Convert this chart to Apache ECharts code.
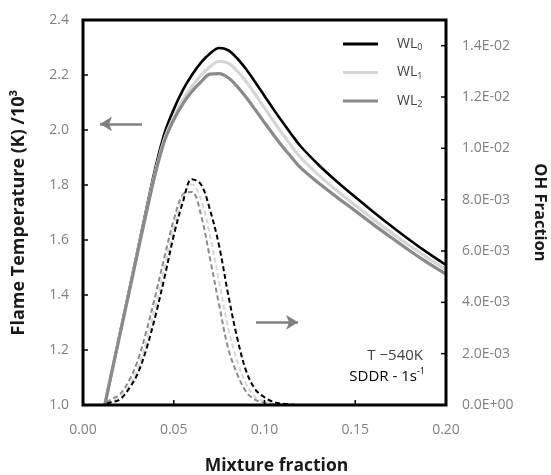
<!DOCTYPE html>
<html>
<head>
<meta charset="utf-8">
<script src="https://cdn.jsdelivr.net/npm/echarts@6/dist/echarts.min.js"></script>
<style>html,body{margin:0;padding:0;background:#fff}#c{width:551px;height:475px}</style>
</head>
<body>
<div id="c"></div>
<script>
// Temperature (left axis, /10^3 K)
const xT = [0.012,0.015,0.020,0.025,0.030,0.035,0.040,0.045,0.050,0.055,0.060,0.065,0.070,0.075,0.080,0.085,0.090,0.095,0.100,0.105,0.110,0.115,0.120,0.130,0.140,0.150,0.160,0.170,0.180,0.190,0.200];
const tWL0 = [1.000,1.093,1.249,1.404,1.560,1.715,1.865,1.990,2.075,2.145,2.200,2.245,2.278,2.298,2.290,2.260,2.220,2.173,2.124,2.075,2.028,1.983,1.940,1.872,1.812,1.756,1.702,1.650,1.600,1.553,1.509];
const tWL1 = [1.000,1.093,1.247,1.400,1.554,1.706,1.852,1.970,2.047,2.109,2.158,2.199,2.230,2.250,2.243,2.214,2.175,2.129,2.080,2.032,1.985,1.941,1.899,1.835,1.779,1.726,1.675,1.626,1.579,1.534,1.492];
const tWL2 = [1.000,1.093,1.246,1.398,1.551,1.702,1.846,1.962,2.037,2.095,2.140,2.175,2.203,2.205,2.190,2.158,2.118,2.073,2.027,1.982,1.939,1.900,1.862,1.806,1.755,1.706,1.656,1.608,1.561,1.517,1.476];

// OH fraction (right axis)
const xOH = [0.000,0.010,0.015,0.020,0.025,0.030,0.035,0.040,0.045,0.050,0.055,0.060,0.065,0.070,0.075,0.080,0.085,0.090,0.095,0.100,0.105,0.110,0.120,0.140,0.160,0.180,0.200];
const ohWL0 = [0,0,0.0001,0.0002,0.0006,0.0012,0.0022,0.0035,0.0050,0.0066,0.0079,0.0088,0.0086,0.0076,0.0062,0.0043,0.0026,0.0013,0.0006,0.0003,0.00012,0.00005,0,0,0,0,0];
const ohWL1 = [0,0,0.0001,0.0003,0.0007,0.0014,0.0025,0.0039,0.0054,0.0069,0.0081,0.0086,0.0080,0.0066,0.0048,0.0030,0.0017,0.0008,0.0003,0.00015,0.00007,0.00004,0,0,0,0,0];
const ohWL2 = [0,0,0.0002,0.0004,0.0009,0.0017,0.0029,0.0043,0.0058,0.0072,0.0082,0.0083,0.0074,0.0057,0.0039,0.0022,0.0012,0.0005,0.0002,0.0001,0.00005,0.00002,0,0,0,0,0];

const legendNames = ['WL0','WL1','WL2'];
const xTicks = {min:0, max:0.2, interval:0.05};
const leftTicks = {min:1.0, max:2.4, interval:0.2};
const rightTicks = {min:0, max:0.015, interval:0.002};
const xTickVals = [0.05,0.10,0.15];
const leftTickVals = [1.2,1.4,1.6,1.8,2.0,2.2];
const rightTickVals = [0.002,0.004,0.006,0.008,0.010,0.012,0.014];

const colors = ['#000000','#d6d6d6','#8a8a8a'];
const pairs = (xs, ys) => xs.map((x,i)=>[x, ys[i]]);
const FONT = 'Open Sans';
const LBL = '#808080';

function sci(v){
  if (v === 0) return '0.0E+00';
  let e = Math.floor(Math.log10(Math.abs(v)) + 1e-9);
  let m = v / Math.pow(10, e);
  if (Math.round(m*10)/10 >= 10) { m /= 10; e += 1; }
  const sign = e < 0 ? '-' : '+';
  const ea = Math.abs(e);
  return m.toFixed(1) + 'E' + sign + (ea < 10 ? '0' + ea : ea);
}

const chart = echarts.init(document.getElementById('c'), null, {renderer:'canvas'});
const tempSeries = [tWL0,tWL1,tWL2].map((d,i)=>({
  name: legendNames[i], type:'line', xAxisIndex:0, yAxisIndex:0, smooth:0.35, symbol:'none',
  data: pairs(xT, d), lineStyle:{color:colors[i], width: i===0?2.6:3.2}, itemStyle:{color:colors[i]}, z: 3+i
}));
const ohSeries = [ohWL0,ohWL1,ohWL2].map((d,i)=>({
  name: 'OH'+i, type:'line', xAxisIndex:0, yAxisIndex:1, smooth:0.35, symbol:'none',
  data: pairs(xOH, d), lineStyle:{color:colors[i], width:2, type:[5,3]}, itemStyle:{color:colors[i]}, z: 6-i
}));
tempSeries[0].markLine = {
  silent:true, symbol:['none','arrow'], symbolSize:[11,12], label:{show:false},
  lineStyle:{color:'#808080', width:2.5, type:'solid'},
  data:[[{coord:[0.0325, 2.022]},{coord:[0.0094, 2.022]}]]
};
ohSeries[0].markLine = {
  silent:true, symbol:['none','arrow'], symbolSize:[11,12], label:{show:false},
  lineStyle:{color:'#808080', width:2.5, type:'solid'},
  data:[[{coord:[0.0953, 0.00322]},{coord:[0.1185, 0.00322]}]]
};

// Frame and inside ticks drawn through the axes' own scales (custom series)
const TICK = 5;
const frameSeries = {
  name:'frame', type:'custom', xAxisIndex:0, yAxisIndex:0, silent:true, clip:false, z:10,
  encode:{x:[0,2], y:[1,3]},
  data:[[xTicks.min, leftTicks.max, xTicks.max, leftTicks.min]],
  renderItem:(p, api) => {
    const a = api.coord([api.value(0), api.value(1)]);
    const b = api.coord([api.value(2), api.value(3)]);
    return {type:'rect', shape:{x:a[0], y:a[1], width:b[0]-a[0], height:b[1]-a[1]},
      style:{fill:'none', stroke:'#000', lineWidth:3}};
  }
};
const xTickSeries = {
  name:'xticks', type:'custom', xAxisIndex:0, yAxisIndex:0, silent:true, clip:false, z:10,
  data: xTickVals.map(v=>[v, leftTicks.min]),
  renderItem:(p, api) => {
    const c = api.coord([api.value(0), api.value(1)]);
    return {type:'line', shape:{x1:c[0], y1:c[1], x2:c[0], y2:c[1]-TICK}, style:{stroke:'#000', lineWidth:1.5}};
  }
};
const leftTickSeries = {
  name:'lticks', type:'custom', xAxisIndex:0, yAxisIndex:0, silent:true, clip:false, z:10,
  data: leftTickVals.map(v=>[xTicks.min, v]),
  renderItem:(p, api) => {
    const c = api.coord([api.value(0), api.value(1)]);
    return {type:'line', shape:{x1:c[0], y1:c[1], x2:c[0]+TICK, y2:c[1]}, style:{stroke:'#000', lineWidth:1.5}};
  }
};
const rightTickSeries = {
  name:'rticks', type:'custom', xAxisIndex:0, yAxisIndex:1, silent:true, clip:false, z:10,
  data: rightTickVals.map(v=>[xTicks.max, v]),
  renderItem:(p, api) => {
    const c = api.coord([api.value(0), api.value(1)]);
    return {type:'line', shape:{x1:c[0], y1:c[1], x2:c[0]-TICK, y2:c[1]}, style:{stroke:'#000', lineWidth:1.5}};
  }
};

const NO_LINE = {show:false};

chart.setOption({
  animation:false,
  backgroundColor:'#fff',
  textStyle:{fontFamily:FONT},
  grid:{outerBoundsMode:'none', containLabel:false, left:83, right:105, top:20, bottom:70},
  legend:{
    data:legendNames, orient:'vertical', left:338, top:32, itemWidth:35, itemHeight:3, itemGap:13.5, icon:'rect',
    formatter: n => '{a|WL}{b|' + n.slice(2) + '}',
    textStyle:{padding:[0,0,0,14], rich:{a:{fontSize:14, color:'#404040', fontFamily:FONT, lineHeight:16}, b:{fontSize:9, color:'#404040', fontFamily:FONT, verticalAlign:'bottom', lineHeight:16}}}
  },
  xAxis:{
    type:'value', position:'bottom', min:xTicks.min, max:xTicks.max, interval:xTicks.interval,
    name:'Mixture fraction', nameLocation:'middle', nameGap:52,
    nameTextStyle:{fontSize:17.5, fontWeight:'bold', color:'#1a1a1a', fontFamily:FONT, padding:[0,0,0,24]},
    axisLine:NO_LINE, axisTick:NO_LINE,
    axisLabel:{color:LBL, fontSize:14, margin:18, formatter:v=>v.toFixed(2)},
    splitLine:NO_LINE
  },
  yAxis:[{
    type:'value', position:'left', min:leftTicks.min, max:leftTicks.max, interval:leftTicks.interval,
    name:'Flame Temperature (K) /10³', nameLocation:'middle', nameGap:55,
    nameTextStyle:{fontSize:18, fontWeight:'bold', color:'#1a1a1a', fontFamily:FONT},
    axisLine:NO_LINE, axisTick:NO_LINE,
    axisLabel:{color:LBL, fontSize:14, margin:14, formatter:v=>v.toFixed(1)},
    splitLine:NO_LINE
  },{
    type:'value', position:'right', min:rightTicks.min, max:rightTicks.max, interval:rightTicks.interval,
    name:'OH Fraction', nameLocation:'middle', nameGap:85, nameRotate:-90,
    nameTextStyle:{fontSize:16.5, fontWeight:'bold', color:'#1a1a1a', fontFamily:FONT},
    axisLine:NO_LINE, axisTick:NO_LINE,
    axisLabel:{color:LBL, fontSize:14, margin:16, showMaxLabel:false, formatter:sci},
    splitLine:NO_LINE
  }],
  graphic:[
    {type:'text', right:128, top:348, z:10, style:{text:'T −540K', fontSize:15, fill:'#404040', fontFamily:FONT}},
    {type:'text', right:126, top:367, z:10, style:{text:'{a|SDDR - 1s}{b|-1}', fontFamily:FONT,
      rich:{a:{fontSize:15, color:'#404040', fontFamily:FONT, lineHeight:19}, b:{fontSize:9, color:'#404040', fontFamily:FONT, verticalAlign:'top', lineHeight:19}}}}
  ],
  series: tempSeries.concat(ohSeries, [frameSeries, xTickSeries, leftTickSeries, rightTickSeries])
});
</script>
</body>
</html>
